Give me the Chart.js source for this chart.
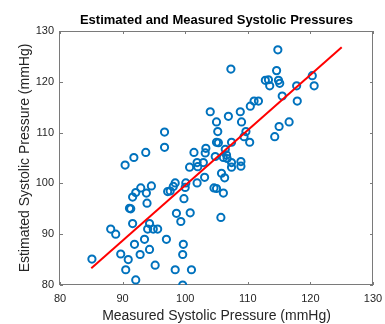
<!DOCTYPE html>
<html>
<head>
<meta charset="utf-8">
<script src="https://cdn.jsdelivr.net/npm/chart.js@4"></script>
<style>
  body { margin: 0; background: #fff; }
</style>
</head>
<body>
<canvas id="bpChart" width="385" height="324"></canvas>
<script>
// Measured vs estimated systolic pressure (mmHg)
const measured = [
  85.1, 88.1, 88.9, 89.7, 90.9, 90.5, 92.1, 92.8, 91.9, 93.5,
  94.3, 95.2, 91.6, 94.3, 94.0, 94.9, 95.6, 97.0, 98.4, 101.0,
  99.6, 99.7, 99.6, 98.6, 99.3, 100.8, 99.8, 100.0, 100.1, 98.4,
  98.1, 97.2, 97.6, 93.8, 93.9, 94.6, 92.9, 92.1, 91.6, 91.1,
  91.3, 90.4, 91.8, 93.7, 96.7, 96.7, 101.4, 103.3, 103.2, 100.7,
  101.9, 102.9, 102.0, 101.9, 103.1, 104.8, 105.8, 106.3, 104.6, 105.0,
  106.1, 105.7, 104.0, 105.0, 105.2, 105.0, 105.3, 106.9, 108.8, 109.0,
  107.4, 109.7, 109.4, 110.3, 106.4, 106.6, 106.1, 106.7, 108.9, 108.9,
  107.4, 107.4, 110.4, 111.0, 111.7, 107.3, 114.8, 114.6, 112.8, 113.3,
  114.9, 115.1, 113.5, 117.8, 120.3, 120.6, 115.5, 117.9, 115.0, 116.6,
  114.3
];
const estimated = [
  85.1, 91.0, 90.0, 86.1, 85.0, 83.0, 81.0, 86.0, 88.0, 89.0,
  87.0, 83.9, 92.1, 92.1, 91.0, 91.0, 91.0, 89.0, 83.0, 83.0,
  80.0, 88.0, 86.0, 94.1, 92.5, 94.2, 97.0, 99.2, 100.1, 100.1,
  99.4, 98.4, 98.5, 98.1, 96.1, 99.5, 99.1, 98.2, 97.3, 95.1,
  95.0, 103.6, 105.1, 106.1, 110.1, 107.1, 106.1, 106.9, 106.0, 103.2,
  104.1, 104.1, 103.3, 100.1, 101.2, 105.3, 102.0, 101.1, 99.1, 99.0,
  98.1, 93.3, 114.1, 112.1, 110.2, 108.1, 108.0, 113.2, 114.1, 112.1,
  108.1, 110.2, 109.2, 108.1, 106.7, 105.6, 105.1, 104.9, 104.3, 103.4,
  103.2, 104.1, 115.2, 116.2, 116.2, 122.5, 126.3, 122.2, 120.3, 120.4,
  120.3, 119.7, 119.2, 119.2, 121.2, 119.2, 117.2, 116.2, 111.2, 112.1,
  109.2
];

// least-squares fit line end points
const fitX = [85, 125];
const fitY = [83.3, 126.8];

const xTicks = [80, 90, 100, 110, 120, 130];
const yTicks = [80, 90, 100, 110, 120, 130];

const axisColor = '#262626';

// MATLAB-like box with inward tick marks on all four sides
const boxPlugin = {
  id: 'box',
  beforeDatasetsDraw(chart) {
    const {ctx, chartArea: a, scales: {x, y}} = chart;
    ctx.save();
    ctx.strokeStyle = '#7a7a7a';
    ctx.lineWidth = 1;
    ctx.strokeRect(Math.round(a.left) - 0.5, Math.round(a.top) + 0.5,
      Math.round(a.right - a.left), Math.round(a.bottom - a.top) - 1);
    ctx.beginPath();
    xTicks.forEach(v => {
      const px = Math.round(x.getPixelForValue(v)) + 0.5;
      ctx.moveTo(px, a.bottom); ctx.lineTo(px, a.bottom - 3);
      ctx.moveTo(px, a.top); ctx.lineTo(px, a.top + 3);
    });
    yTicks.forEach(v => {
      const py = Math.round(y.getPixelForValue(v)) + 0.5;
      ctx.moveTo(a.left, py); ctx.lineTo(a.left + 3, py);
      ctx.moveTo(a.right, py); ctx.lineTo(a.right - 3, py);
    });
    ctx.stroke();
    ctx.restore();
  }
};

const ctx = document.getElementById('bpChart').getContext('2d');
new Chart(ctx, {
  type: 'scatter',
  data: {
    datasets: [{
      label: 'Fit',
      data: fitX.map((v, i) => ({x: v, y: fitY[i]})),
      showLine: true,
      borderColor: '#ff0000',
      borderWidth: 2,
      pointRadius: 0,
      order: 0
    }, {
      label: 'Data',
      data: measured.map((v, i) => ({x: v, y: estimated[i]})),
      pointStyle: 'circle',
      pointRadius: 3.6,
      borderWidth: 2,
      borderColor: '#0072BD',
      backgroundColor: 'rgba(0,0,0,0)',
      order: 1
    }]
  },
  options: {
    responsive: false,
    animation: false,
    layout: { padding: 0 },
    plugins: {
      legend: { display: false },
      tooltip: { enabled: false },
      title: {
        display: true,
        fullSize: false,
        text: 'Estimated and Measured Systolic Pressures',
        color: '#000',
        font: { family: 'Liberation Sans, Arial, sans-serif', size: 13, weight: 'bold' },
        padding: { top: 12.5, bottom: 2.9 }
      }
    },
    scales: {
      x: {
        type: 'linear',
        min: 80, max: 130,
        grid: { display: false, drawTicks: false },
        border: { display: false },
        afterBuildTicks: s => { s.ticks = xTicks.map(v => ({value: v})); },
        afterFit: s => { s.height = 39; s.paddingRight = 12; s.paddingLeft = 0; },
        ticks: {
          padding: 7,
          color: axisColor,
          maxRotation: 0,
          font: { family: 'Liberation Sans, Arial, sans-serif', size: 11 }
        },
        title: {
          display: true,
          text: 'Measured Systolic Pressure (mmHg)',
          color: axisColor,
          font: { family: 'Liberation Sans, Arial, sans-serif', size: 14 },
          padding: { top: 0, bottom: -1 }
        }
      },
      y: {
        type: 'linear',
        min: 80, max: 130,
        grid: { display: false, drawTicks: false },
        border: { display: false },
        afterBuildTicks: s => { s.ticks = yTicks.map(v => ({value: v})); },
        afterFit: s => { s.width = 60; s.paddingTop = 0; s.paddingBottom = 0; },
        ticks: {
          padding: 6,
          color: axisColor,
          font: { family: 'Liberation Sans, Arial, sans-serif', size: 11 }
        },
        title: {
          display: true,
          text: 'Estimated Systolic Pressure (mmHg)',
          color: axisColor,
          font: { family: 'Liberation Sans, Arial, sans-serif', size: 14 },
          padding: { top: 16.5, bottom: 0 }
        }
      }
    }
  },
  plugins: [boxPlugin]
});
</script>
</body>
</html>
